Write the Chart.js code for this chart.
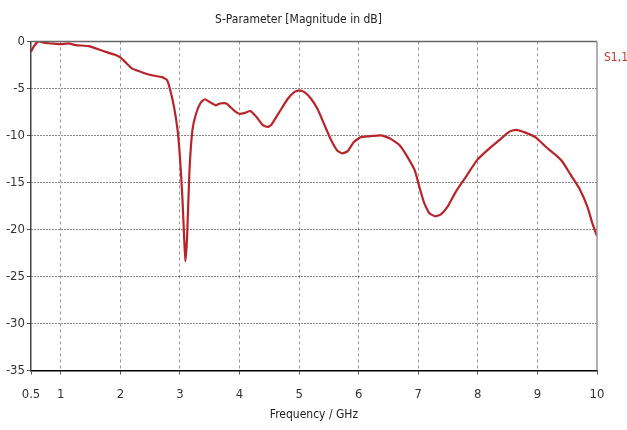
<!DOCTYPE html>
<html>
<head>
<meta charset="utf-8">
<script src="https://cdn.jsdelivr.net/npm/chart.js@4/dist/chart.umd.min.js"></script>
<style>
  html, body { margin: 0; padding: 0; background: #fff; }
  #wrap { position: relative; width: 627px; height: 430px; }
</style>
</head>
<body>
<div id="wrap"><canvas id="c" width="627" height="430"></canvas></div>
<script>
// ---- data ----
const titleText = 'S-Parameter [Magnitude in dB]';
const xAxisTitle = 'Frequency / GHz';
const seriesLabel = 'S1,1';
const xTickValues = [0.5, 1, 2, 3, 4, 5, 6, 7, 8, 9, 10];
const yTickValues = [0, -5, -10, -15, -20, -25, -30, -35];
const freqGHz = [
  0.50, 0.55, 0.63, 0.70, 0.80, 0.90, 1.00, 1.13, 1.25, 1.47,
  1.70, 1.90, 2.00, 2.10, 2.20, 2.37, 2.53, 2.70, 2.78, 2.83,
  2.90, 2.96, 3.00, 3.04, 3.07, 3.09, 3.12, 3.16, 3.21, 3.27,
  3.35, 3.42, 3.50, 3.60, 3.67, 3.78, 3.90, 4.00, 4.09, 4.18,
  4.28, 4.39, 4.47, 4.53, 4.67, 4.81, 4.92, 5.00, 5.09, 5.20,
  5.31, 5.42, 5.53, 5.64, 5.72, 5.81, 5.92, 6.03, 6.17, 6.37,
  6.52, 6.68, 6.82, 6.94, 7.02, 7.10, 7.19, 7.29, 7.38, 7.49,
  7.63, 7.80, 7.99, 8.19, 8.36, 8.53, 8.64, 8.80, 8.97, 9.14,
  9.31, 9.42, 9.56, 9.70, 9.84, 9.92, 10.00
];
const s11dB = [
  -1.1, -0.5, 0.05, -0.1, -0.2, -0.25, -0.3, -0.2, -0.4, -0.5,
  -1.0, -1.4, -1.7, -2.3, -2.9, -3.3, -3.6, -3.8, -4.1, -5.0,
  -6.95, -9.4, -12.3, -16.5, -20.8, -23.4, -20.8, -13.7, -9.4, -7.7,
  -6.5, -6.15, -6.45, -6.8, -6.6, -6.6, -7.3, -7.7, -7.6, -7.4,
  -8.0, -8.9, -9.1, -8.9, -7.5, -6.1, -5.4, -5.2, -5.4, -6.1,
  -7.2, -8.8, -10.4, -11.6, -11.9, -11.7, -10.7, -10.2, -10.1, -10.0,
  -10.3, -11.0, -12.3, -13.7, -15.5, -17.2, -18.3, -18.6, -18.4, -17.6,
  -16.0, -14.4, -12.6, -11.4, -10.5, -9.6, -9.4, -9.7, -10.2, -11.2,
  -12.1, -12.8, -14.2, -15.6, -17.6, -19.3, -20.7
];

const FONT = "'Liberation Sans Narrow', 'DejaVu Sans Condensed', 'Liberation Sans', sans-serif";
const LINE_COLOR = '#b8242a';

const framePlugin = {
  id: 'frame',
  afterDatasetsDraw(chart) {
    const {ctx, chartArea: a} = chart;
    ctx.save();
    ctx.setLineDash([]);
    ctx.strokeStyle = '#666';
    ctx.lineWidth = 1.5;
    ctx.beginPath(); ctx.moveTo(a.left, a.top); ctx.lineTo(a.right, a.top); ctx.stroke();
    ctx.strokeStyle = '#999';
    ctx.lineWidth = 1.5;
    ctx.beginPath(); ctx.moveTo(a.right, a.top); ctx.lineTo(a.right, a.bottom); ctx.stroke();
    ctx.fillStyle = '#c0392b';
    ctx.font = '12px ' + FONT;
    ctx.textAlign = 'left';
    ctx.textBaseline = 'middle';
    ctx.fillText(chart.data.datasets[0].label, a.right + 7, a.top + 16);
    ctx.restore();
  }
};

new Chart(document.getElementById('c'), {
  type: 'line',
  data: {
    datasets: [{
      label: seriesLabel,
      data: freqGHz.map((f, i) => ({x: f, y: s11dB[i]})),
      borderColor: LINE_COLOR,
      borderWidth: 2.2,
      pointRadius: 0,
      fill: false,
      tension: 0.15
    }]
  },
  options: {
    responsive: false,
    animation: false,
    devicePixelRatio: 1,
    layout: { padding: { left: 0, right: 30, top: 0, bottom: 0 } },
    plugins: {
      legend: { display: false },
      tooltip: { enabled: false },
      title: {
        display: true,
        text: titleText,
        color: '#222',
        font: { family: FONT, size: 12, weight: 'normal', lineHeight: 1.2 },
        padding: { top: 13, bottom: 14 }
      }
    },
    scales: {
      x: {
        type: 'linear',
        min: 0.5, max: 10,
        afterBuildTicks: s => { s.ticks = xTickValues.map(v => ({value: v})); },
        afterFit: s => { s.height = 59.5; },
        ticks: {
          color: '#333',
          font: { family: FONT, size: 13 },
          padding: 12,
          maxRotation: 0,
          autoSkip: false,
          callback: v => String(v)
        },
        grid: {
          color: ctx => (ctx.tick && (ctx.tick.value === 0.5 || ctx.tick.value === 10)) ? 'rgba(0,0,0,0)' : '#999',
          lineWidth: 1,
          drawTicks: true,
          tickLength: 4,
          tickColor: '#555'
        },
        border: { display: true, color: '#000', width: 1.5, dash: [3, 3] },
        title: {
          display: true,
          text: xAxisTitle,
          color: '#222',
          font: { family: FONT, size: 12 },
          padding: { top: 4, bottom: 8 }
        }
      },
      y: {
        type: 'linear',
        min: -35, max: 0,
        afterBuildTicks: s => { s.ticks = yTickValues.map(v => ({value: v})); },
        afterFit: s => { s.width = 31; },
        ticks: {
          color: '#333',
          font: { family: FONT, size: 13 },
          padding: 2
        },
        grid: {
          color: ctx => (ctx.tick && (ctx.tick.value === 0 || ctx.tick.value === -35)) ? 'rgba(0,0,0,0)' : '#111',
          lineWidth: 1,
          drawTicks: true,
          tickLength: 4,
          tickColor: '#555'
        },
        border: { display: true, color: '#444', width: 1.5, dash: [1, 2] }
      }
    }
  },
  plugins: [framePlugin]
});
</script>
</body>
</html>
